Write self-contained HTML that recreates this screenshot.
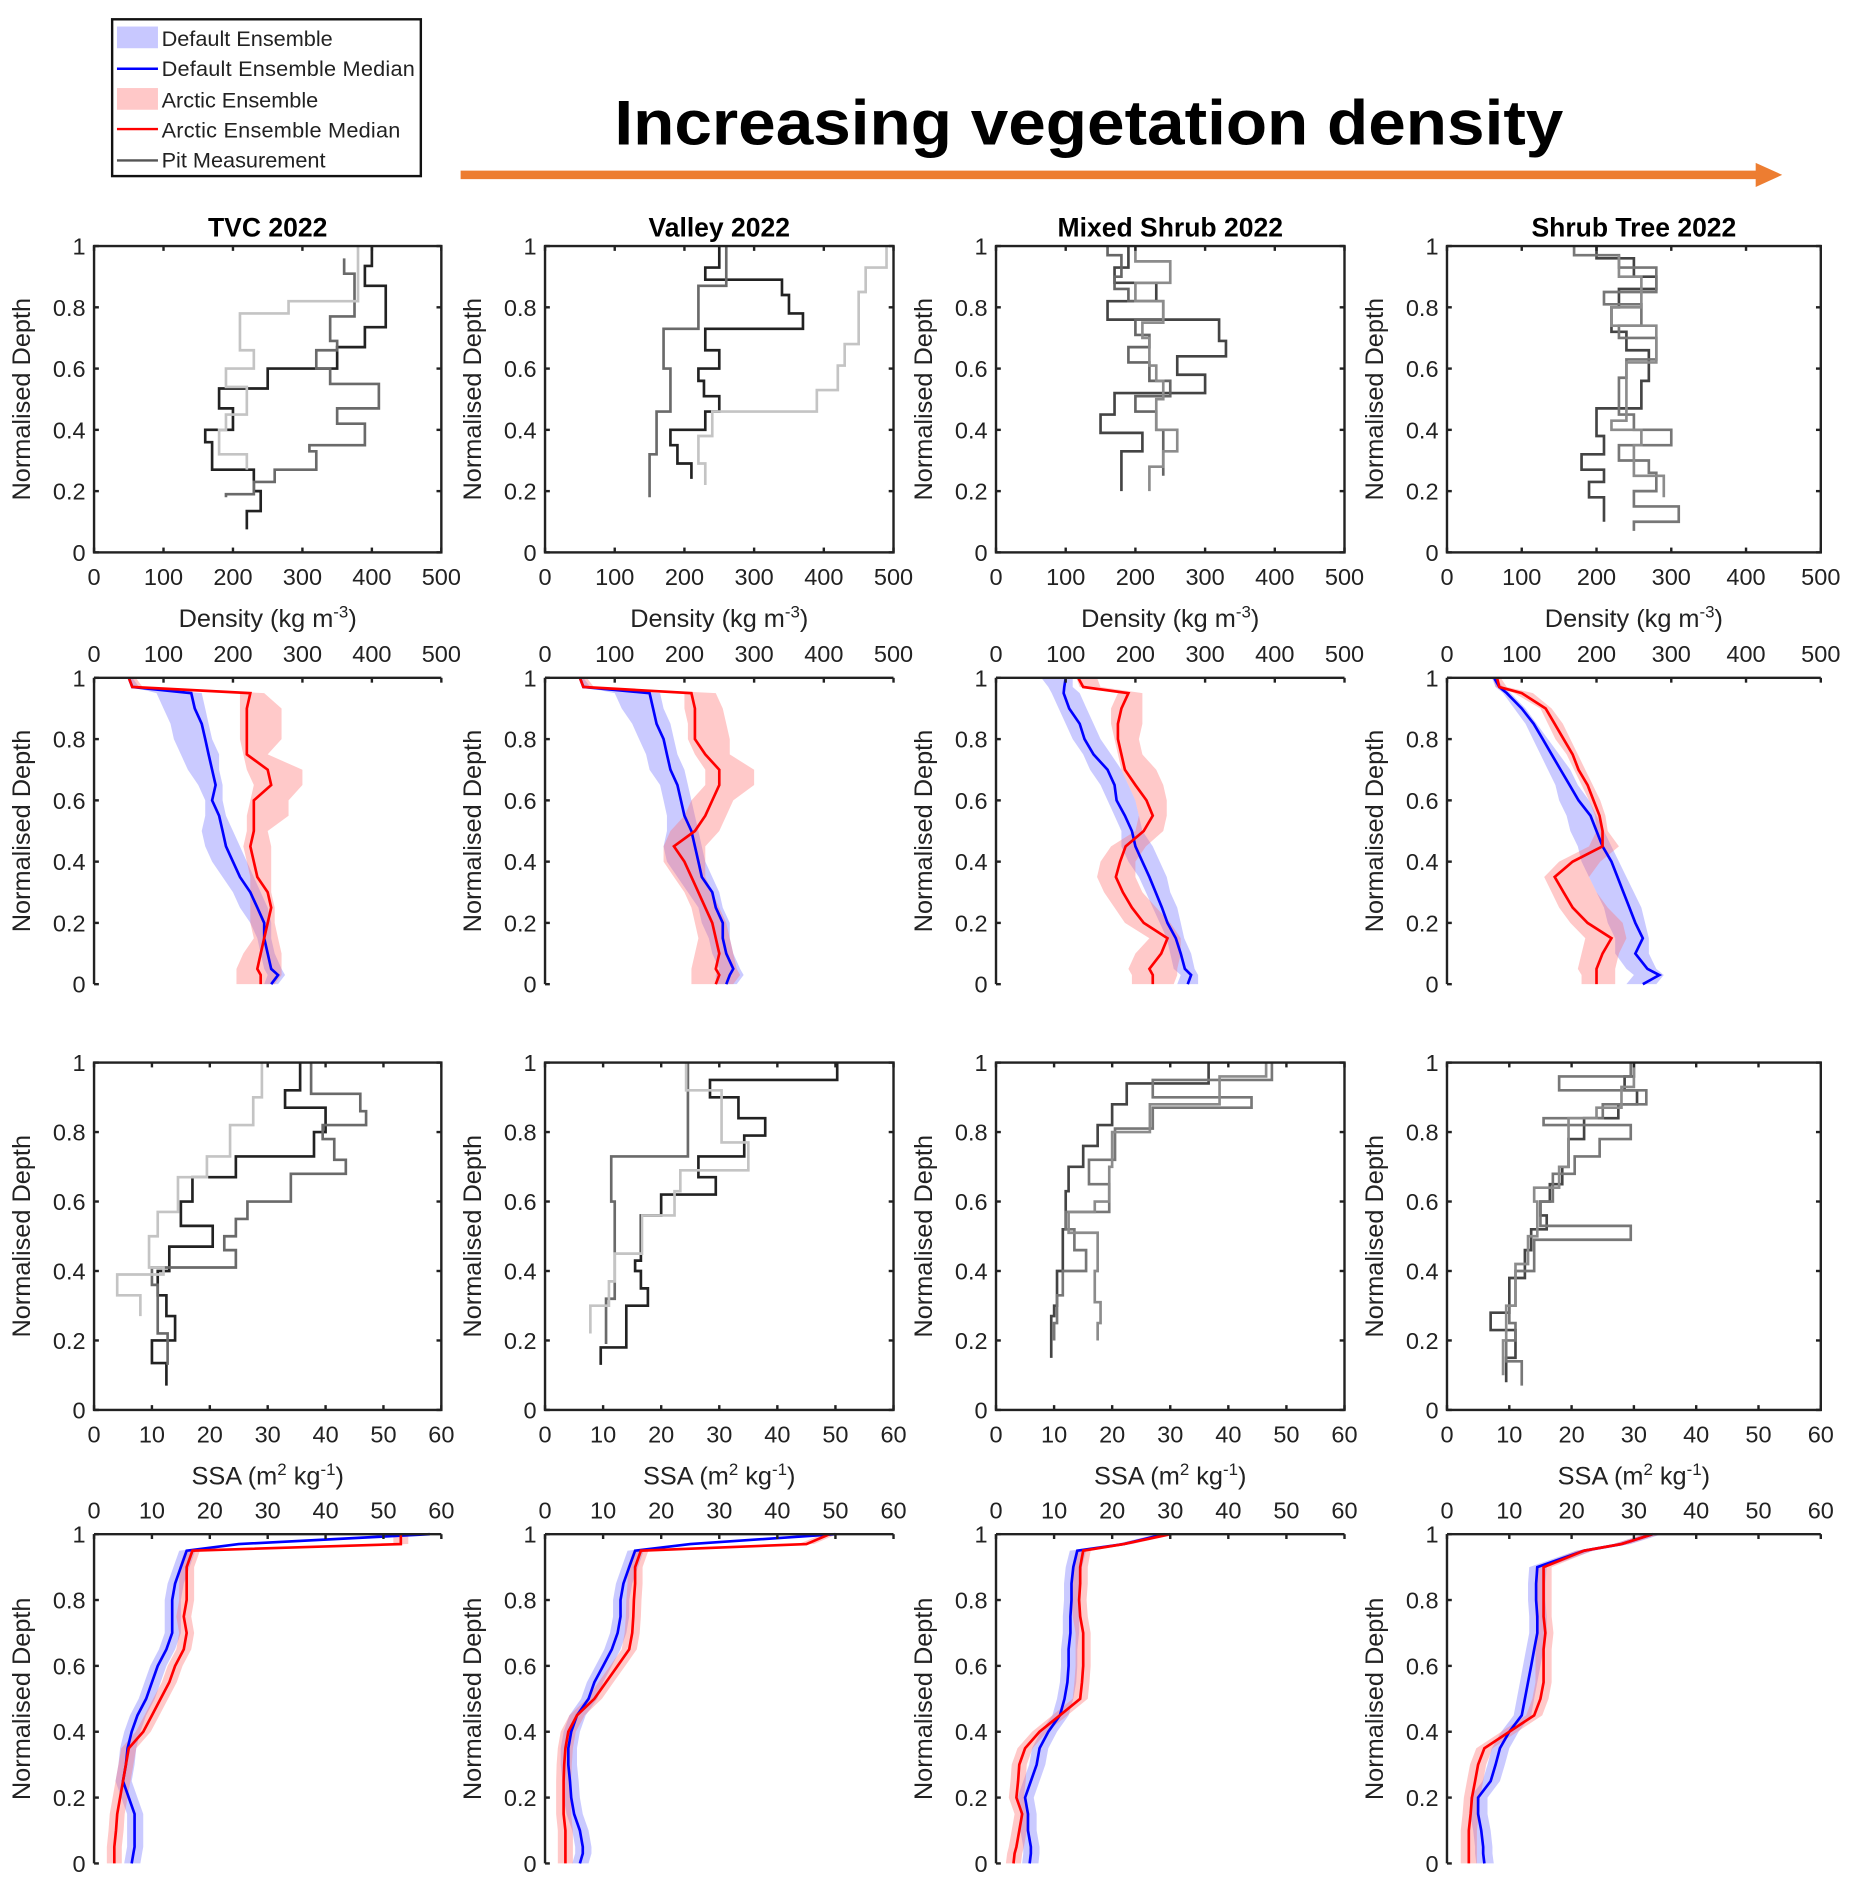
<!DOCTYPE html>
<html><head><meta charset="utf-8"><title>Snow profiles</title>
<style>
html,body{margin:0;padding:0;background:#fff;}
svg{display:block;}
text{font-family:"Liberation Sans",Arial,sans-serif;fill:#222;}
</style></head>
<body>
<svg id="fig" width="1863" height="1896" viewBox="0 0 1545 1572" preserveAspectRatio="none" xmlns="http://www.w3.org/2000/svg">
<g>
<rect x="93" y="16" width="256" height="130" fill="#fff" stroke="#111" stroke-width="2"/>
<rect x="97" y="22" width="34" height="18" fill="#c8c8ff"/>
<text x="134" y="38" font-size="18">Default Ensemble</text>
<line x1="97" y1="57" x2="131" y2="57" stroke="#0000ff" stroke-width="2"/>
<text x="134" y="63" font-size="18" textLength="210">Default Ensemble Median</text>
<rect x="97" y="73" width="34" height="18" fill="#ffc8c8"/>
<text x="134" y="89" font-size="18">Arctic Ensemble</text>
<line x1="97" y1="107" x2="131" y2="107" stroke="#ff0000" stroke-width="2"/>
<text x="134" y="114" font-size="18" textLength="198">Arctic Ensemble Median</text>
<line x1="97" y1="133" x2="131" y2="133" stroke="#555" stroke-width="2"/>
<text x="134" y="139" font-size="18">Pit Measurement</text>
</g>
<text x="903" y="120" font-size="52" font-weight="bold" text-anchor="middle" textLength="787" lengthAdjust="spacingAndGlyphs" style="fill:#000">Increasing vegetation density</text>
<g>
<line x1="382" y1="145" x2="1460" y2="145" stroke="#ed7d31" stroke-width="7"/>
<polygon points="1456,135 1478,145 1456,155" fill="#ed7d31"/>
</g>
<g id="plots"></g>
</svg>
<script>
// ---------- common depth grid for ensembles ----------
const ensDepth=[1,0.97,0.95,0.9,0.85,0.8,0.75,0.7,0.65,0.6,0.55,0.5,0.45,0.4,0.35,0.3,0.25,0.2,0.15,0.1,0.05,0.03,0];
const siteNames=["TVC 2022","Valley 2022","Mixed Shrub 2022","Shrub Tree 2022"];
const densityTicks=[0,100,200,300,400,500];
const ssaTicks=[0,10,20,30,40,50,60];
const depthTicks=[0,0.2,0.4,0.6,0.8,1];
const depthTickLabels=["0","0.2","0.4","0.6","0.8","1"];

// ---------- Row 1: density pits ----------
const tvcDenA_d=[1,0.935,0.87,0.735,0.67,0.6,0.535,0.47,0.4,0.36,0.27,0.2,0.135,0.075];
const tvcDenA_v=[400,390,420,390,350,250,180,200,160,170,230,240,220];
const tvcDenB_d=[0.96,0.91,0.77,0.69,0.66,0.6,0.55,0.47,0.42,0.35,0.33,0.27,0.23,0.19,0.18];
const tvcDenB_v=[360,375,340,350,320,340,410,350,390,310,320,260,230,190];
const tvcDenC_d=[1,0.82,0.78,0.66,0.6,0.54,0.45,0.4,0.32,0.27];
const tvcDenC_v=[380,280,210,230,190,220,190,180,220];
const valDenA_d=[1,0.93,0.89,0.84,0.78,0.73,0.66,0.6,0.56,0.51,0.46,0.4,0.35,0.29,0.24];
const valDenA_v=[250,230,340,350,370,230,250,220,228,250,230,180,190,210];
const valDenB_d=[1,0.87,0.73,0.6,0.46,0.32,0.18];
const valDenB_v=[260,220,170,180,160,150];
const valDenC_d=[1,0.93,0.85,0.68,0.61,0.53,0.46,0.38,0.29,0.22];
const valDenC_v=[490,460,450,430,420,390,240,220,230];
const mixDenA_d=[1,0.93,0.88,0.82,0.76,0.69,0.64,0.58,0.52,0.45,0.39,0.33,0.2];
const mixDenA_v=[190,170,230,160,320,330,260,300,170,150,210,180];
const mixDenB_d=[1,0.97,0.9,0.86,0.82,0.76,0.71,0.67,0.62,0.56,0.51,0.46,0.4,0.33,0.25];
const mixDenB_v=[160,180,170,190,240,200,220,190,220,250,200,230,240,240];
const mixDenC_d=[1,0.95,0.88,0.82,0.75,0.7,0.61,0.56,0.5,0.4,0.33,0.28,0.2];
const mixDenC_v=[200,250,200,240,210,220,230,240,230,260,240,220];
const stDenA_d=[1,0.96,0.9,0.86,0.8,0.72,0.66,0.56,0.47,0.38,0.32,0.27,0.23,0.18,0.1];
const stDenA_v=[200,250,280,230,220,240,270,260,200,210,180,210,190,210];
const stDenB_d=[1,0.97,0.93,0.85,0.81,0.74,0.7,0.63,0.57,0.45,0.4,0.35,0.3,0.26,0.2,0.15,0.1,0.07];
const stDenB_v=[170,230,280,210,260,230,280,240,230,250,300,230,270,280,250,310,250];
const stDenC_d=[0.97,0.9,0.8,0.74,0.62,0.5,0.43,0.4,0.35,0.25,0.18];
const stDenC_v=[230,260,220,280,240,240,220,260,250,290];

// ---------- Row 2: density ensembles ----------
const tvcDenDefMed=[50,55,140,145,155,160,165,170,175,170,180,185,190,200,210,225,235,245,245,250,255,265,255];
const tvcDenDefLo=[50,55,90,100,110,115,125,135,150,160,160,155,160,170,185,200,210,225,235,240,245,250,245];
const tvcDenDefHi=[55,65,155,160,165,170,180,180,185,185,190,200,210,220,230,240,250,255,255,260,270,275,265];
const tvcDenArcMed=[50,55,225,220,220,220,220,250,255,230,230,230,225,230,235,250,255,250,245,240,235,240,240];
const tvcDenArcLo=[50,55,210,210,210,210,215,220,230,225,220,220,215,220,225,225,225,225,230,215,205,205,205];
const tvcDenArcHi=[60,70,245,270,270,270,250,300,300,280,280,250,255,255,255,255,260,260,265,270,270,270,260];
const valDenDefMed=[50,55,150,155,160,170,175,180,190,195,200,210,215,220,225,240,245,255,255,260,270,265,260];
const valDenDefLo=[50,55,100,110,125,135,145,150,165,170,175,175,170,175,190,205,220,225,235,240,250,245,245];
const valDenDefHi=[55,65,165,170,180,185,190,200,205,210,215,220,225,230,240,250,255,265,265,270,280,285,275];
const valDenArcMed=[50,55,210,215,215,215,230,250,250,240,230,215,185,200,210,220,230,240,245,250,245,250,245];
const valDenArcLo=[50,55,200,200,205,205,215,230,230,210,200,180,170,170,185,200,210,215,220,215,210,210,210];
const valDenArcHi=[60,70,245,255,260,265,265,300,300,270,260,250,230,230,230,240,250,260,265,270,275,280,270];
const mixDenDefMed=[100,98,97,105,120,127,140,160,170,173,185,195,200,210,220,229,238,246,258,265,271,280,275];
const mixDenDefLo=[65,75,80,90,100,110,125,135,150,160,170,180,180,190,205,215,225,235,245,250,255,265,260];
const mixDenDefHi=[110,110,120,130,140,150,165,180,190,200,205,210,225,235,245,250,260,265,270,280,285,290,290];
const mixDenArcMed=[118,125,190,180,175,175,180,185,200,216,225,212,186,178,172,182,195,212,246,237,220,225,225];
const mixDenArcLo=[115,120,175,165,165,170,175,180,190,200,205,200,165,150,145,155,170,185,220,200,190,195,195];
const mixDenArcHi=[145,150,210,210,210,205,210,230,240,245,245,240,215,200,200,210,230,250,265,265,260,260,255];
const stDenDefMed=[63,70,80,100,116,128,140,152,164,176,192,200,208,220,228,236,244,252,262,252,268,284,262];
const stDenDefLo=[60,65,75,90,105,115,125,135,145,150,160,165,175,180,190,200,210,215,225,225,240,250,240];
const stDenDefHi=[65,75,85,105,120,135,150,165,175,190,200,210,220,230,240,250,260,265,270,270,280,290,280];
const stDenArcMed=[67,70,100,132,144,156,168,176,188,196,204,208,208,168,144,156,168,188,220,208,200,200,200];
const stDenArcLo=[62,65,90,125,135,145,160,170,180,190,198,200,190,150,130,140,150,165,185,180,175,180,180];
const stDenArcHi=[72,80,115,140,155,165,175,185,195,205,212,215,230,205,190,200,215,235,240,230,225,225,225];

// ---------- Row 3: SSA pits ----------
const tvcSsaA_d=[1,0.92,0.87,0.8,0.73,0.67,0.6,0.53,0.47,0.4,0.33,0.27,0.2,0.135,0.07];
const tvcSsaA_v=[35.6,33,40,38,24.5,17,15,20.5,13,11,12.5,14,10,12.5];
const tvcSsaB_d=[1,0.91,0.86,0.82,0.78,0.72,0.68,0.6,0.55,0.5,0.46,0.41,0.36,0.22,0.13];
const tvcSsaB_v=[37.5,46,47,39.5,41.5,43.5,34,26.5,24.5,22.5,24.5,10,11,12.7];
const tvcSsaC_d=[1,0.9,0.82,0.73,0.67,0.57,0.5,0.41,0.39,0.33,0.27];
const tvcSsaC_v=[29,27.5,23.5,19.5,14.5,11,9.5,12,4,8];
const valSsaA_d=[1,0.95,0.9,0.84,0.79,0.73,0.67,0.62,0.56,0.43,0.4,0.35,0.3,0.18,0.13];
const valSsaA_v=[50.3,28.4,33.3,37.9,34.3,26.4,29.4,20,16.5,15.5,16.5,17.7,14,9.6];
const valSsaB_d=[1,0.73,0.6,0.32,0.19];
const valSsaB_v=[24.6,11.4,12,10.5];
const valSsaC_d=[1,0.92,0.77,0.69,0.63,0.56,0.45,0.37,0.3,0.22];
const valSsaC_v=[24.3,30.4,35,23.3,22.3,16.7,12,11,7.8];
const mixSsaA_d=[1,0.94,0.88,0.82,0.76,0.7,0.63,0.52,0.4,0.3,0.27,0.15];
const mixSsaA_v=[36.6,22.5,20,17.5,15,12.5,12,11.5,10.5,10,9.5];
const mixSsaB_d=[1,0.95,0.9,0.87,0.81,0.72,0.65,0.57,0.52,0.46,0.4,0.33,0.25,0.2];
const mixSsaB_v=[47.5,27,44,27,20.5,16,19.5,12,13.5,15.5,11.5,10.5,10];
const mixSsaC_d=[1,0.96,0.88,0.8,0.7,0.6,0.57,0.51,0.4,0.31,0.25,0.2];
const mixSsaC_v=[46.5,38.5,26.5,20,19.5,17,12.5,17.5,17,18,17.5];
const stSsaA_d=[1,0.96,0.92,0.88,0.84,0.78,0.7,0.65,0.6,0.56,0.52,0.46,0.38,0.28,0.23,0.15,0.08];
const stSsaA_v=[30,28.5,30.5,27.5,22,19.5,18.5,16.5,15,16,13.5,12.5,10,7,11,9.5];
const stSsaB_d=[1,0.96,0.92,0.88,0.84,0.82,0.78,0.73,0.68,0.6,0.53,0.49,0.4,0.3,0.25,0.2,0.14,0.07];
const stSsaB_v=[29.5,18,32,25,15.5,29.5,24.5,20.5,17,15,29.5,14,11,10,11,9.5,12];
const stSsaC_d=[1,0.93,0.87,0.84,0.8,0.7,0.64,0.6,0.5,0.42,0.3,0.2,0.1];
const stSsaC_v=[30,28,24,19.5,19.5,18,14,14.5,13,11,9.5,9];

// ---------- Row 4: SSA ensembles ----------
const tvcSsaDefMed=[58,25,16,15,14,13.5,13.5,13.5,12.5,11,10,9,7.5,6.5,5.8,5.5,5,6,7,7,7,6.8,6.5];
const tvcSsaArcMed=[53,53,17,16,16,16,15.5,16,15.5,14,13,11.5,10,8.5,6,5.5,5,4.5,4,3.8,3.5,3.5,3.5];
const valSsaDefMed=[50,25,15.5,14.5,13.5,13,13,12.5,11.5,10,8.5,7.5,5.5,4.5,4,4,4.3,4.5,5,6,6.5,6.5,6];
const valSsaArcMed=[49,45,16.5,15.5,15.5,15.3,15.2,15,14.5,12.5,10.5,8.5,5.5,4,3.5,3.3,3.2,3.2,3.2,3.5,3.5,3.5,3.5];
const mixSsaDefMed=[29,22,14,13.3,13,13,12.8,12.8,12.5,12.5,12.3,11.8,11,9,7.5,7,6,5,5.5,5.5,6,6,5.8];
const mixSsaArcMed=[30,22,15,14.5,14.5,14.3,14.5,15,15,15,14.8,14.5,11,7.5,5,4,3.8,3.5,4.5,4,3.5,3.2,3];
const stSsaDefMed=[33,28,22,14.5,14.3,14.3,14.5,14.5,14,13.5,13,12.5,12,10,8.5,7.8,7,5,5,5.5,5.8,5.8,6];
const stSsaArcMed=[33,28,22,15.5,15.5,15.5,15.5,15.8,15.5,15.5,15.5,15,14,10,6,5,4.5,4,3.8,3.5,3.5,3.5,3.5];

// ---------- layout ----------
const NS="http://www.w3.org/2000/svg";
const colX=[78,452,826,1200], colW=[288,289,289,310];
const rows=[{t:204,b:458},{t:562,b:816},{t:881,b:1169},{t:1272,b:1545}];
const plots=document.getElementById('plots');
function mk(tag,attrs,parent){const e=document.createElementNS(NS,tag);for(const k in attrs)e.setAttribute(k,attrs[k]);(parent||plots).appendChild(e);return e;}
function xOf(p,v){return p.x0+v/p.xmax*p.w;}
function yOf(p,d){return p.yb-d*(p.yb-p.yt);}

function stepPath(p,ds,vs){
  let s='M'+xOf(p,vs[0]).toFixed(1)+' '+yOf(p,ds[0]).toFixed(1);
  for(let i=0;i<vs.length;i++){
    s+=' V'+yOf(p,ds[i+1]).toFixed(1);
    if(i+1<vs.length)s+=' H'+xOf(p,vs[i+1]).toFixed(1);
  }
  return s;
}
function linePath(p,vals){return vals.map((v,i)=>(i?'L':'M')+xOf(p,v).toFixed(1)+' '+yOf(p,ensDepth[i]).toFixed(1)).join(' ');}
function bandPath(p,lo,hi){
  let s=lo.map((v,i)=>(i?'L':'M')+xOf(p,v).toFixed(1)+' '+yOf(p,ensDepth[i]).toFixed(1)).join(' ');
  for(let i=hi.length-1;i>=0;i--)s+=' L'+xOf(p,hi[i]).toFixed(1)+' '+yOf(p,ensDepth[i]).toFixed(1);
  return s+' Z';
}
function offset(arr,dv){return arr.map(v=>Math.max(0,v+dv));}

function axes(p,row,ci,kind){
  const g=mk('g',{});
  
  
  const full=(row===0||row===2);
  const ticks=kind==='den'?densityTicks:ssaTicks;
  if(full){
    mk('rect',{x:p.x0,y:p.yt,width:p.w,height:p.yb-p.yt,fill:'none',stroke:'#222','stroke-width':2},g);
  }else{
    mk('line',{x1:p.x0,y1:p.yt,x2:p.x0+p.w,y2:p.yt,stroke:'#222','stroke-width':2},g);
    mk('line',{x1:p.x0,y1:p.yt,x2:p.x0,y2:p.yb,stroke:'#222','stroke-width':2},g);
  }
  ticks.forEach(t=>{
    const x=xOf(p,t);
    if(full){
      mk('line',{x1:x,y1:p.yb,x2:x,y2:p.yb-4,stroke:'#222','stroke-width':2},g);
      mk('line',{x1:x,y1:p.yt,x2:x,y2:p.yt+4,stroke:'#222','stroke-width':2},g);
      const tl=mk('text',{x:x,y:p.yb+27,'font-size':19.5,'text-anchor':'middle'},g);tl.textContent=t;
      
      
    }else{
      mk('line',{x1:x,y1:p.yt,x2:x,y2:p.yt+4,stroke:'#222','stroke-width':2},g);
      const tl=mk('text',{x:x,y:p.yt-13,'font-size':19.5,'text-anchor':'middle'},g);tl.textContent=t;
      
      
    }
  });
  depthTicks.forEach((t,i)=>{
    const y=yOf(p,t);
    mk('line',{x1:p.x0,y1:y,x2:p.x0+4,y2:y,stroke:'#222','stroke-width':2},g);
    if(full)mk('line',{x1:p.x0+p.w,y1:y,x2:p.x0+p.w-4,y2:y,stroke:'#222','stroke-width':2},g);
    const tl=mk('text',{x:p.x0-7,y:y+7,'font-size':19.5,'text-anchor':'end'},g);tl.textContent=depthTickLabels[i];
    
    
  });
  const cy=(p.yt+p.yb)/2, lx=p.x0-53;
  const yl=mk('text',{x:lx,y:cy,'font-size':21,'text-anchor':'middle',transform:'rotate(-90 '+lx+' '+cy+')'},g);
  yl.textContent='Normalised Depth';
  
  
  if(full){
    const xl=mk('text',{x:p.x0+p.w/2,y:p.yb+62,'font-size':21,'text-anchor':'middle'},g);
    
    
    if(kind==='den'){xl.innerHTML='Density (kg m<tspan dy="-8" font-size="14">-3</tspan><tspan dy="8">)</tspan>';}
    else{xl.innerHTML='SSA (m<tspan dy="-8" font-size="14">2</tspan><tspan dy="8"> kg</tspan><tspan dy="-8" font-size="14">-1</tspan><tspan dy="8">)</tspan>';}
  }
}

const denPits=[
 [[tvcDenA_d,tvcDenA_v,'#222'],[tvcDenB_d,tvcDenB_v,'#6a6a6a'],[tvcDenC_d,tvcDenC_v,'#c4c4c4']],
 [[valDenA_d,valDenA_v,'#222'],[valDenB_d,valDenB_v,'#6a6a6a'],[valDenC_d,valDenC_v,'#c4c4c4']],
 [[mixDenA_d,mixDenA_v,'#444'],[mixDenB_d,mixDenB_v,'#666'],[mixDenC_d,mixDenC_v,'#8c8c8c']],
 [[stDenA_d,stDenA_v,'#444'],[stDenB_d,stDenB_v,'#777'],[stDenC_d,stDenC_v,'#8c8c8c']]];
const ssaPits=[
 [[tvcSsaA_d,tvcSsaA_v,'#222'],[tvcSsaB_d,tvcSsaB_v,'#6a6a6a'],[tvcSsaC_d,tvcSsaC_v,'#c4c4c4']],
 [[valSsaA_d,valSsaA_v,'#222'],[valSsaB_d,valSsaB_v,'#6a6a6a'],[valSsaC_d,valSsaC_v,'#c4c4c4']],
 [[mixSsaA_d,mixSsaA_v,'#444'],[mixSsaB_d,mixSsaB_v,'#777'],[mixSsaC_d,mixSsaC_v,'#8c8c8c']],
 [[stSsaA_d,stSsaA_v,'#444'],[stSsaB_d,stSsaB_v,'#777'],[stSsaC_d,stSsaC_v,'#8c8c8c']]];
const denEns=[
 [tvcDenDefMed,tvcDenDefLo,tvcDenDefHi,tvcDenArcMed,tvcDenArcLo,tvcDenArcHi],
 [valDenDefMed,valDenDefLo,valDenDefHi,valDenArcMed,valDenArcLo,valDenArcHi],
 [mixDenDefMed,mixDenDefLo,mixDenDefHi,mixDenArcMed,mixDenArcLo,mixDenArcHi],
 [stDenDefMed,stDenDefLo,stDenDefHi,stDenArcMed,stDenArcLo,stDenArcHi]];
const ssaEns=[[tvcSsaDefMed,tvcSsaArcMed],[valSsaDefMed,valSsaArcMed],[mixSsaDefMed,mixSsaArcMed],[stSsaDefMed,stSsaArcMed]];

for(let c=0;c<4;c++){
  const tt=mk('text',{x:colX[c]+colW[c]/2,y:196,'font-size':22,'font-weight':'bold','text-anchor':'middle',style:'fill:#000'});
  tt.textContent=siteNames[c];
  
  
  for(let r=0;r<4;r++){
    const kind=(r<2)?'den':'ssa';
    const p={x0:colX[c],w:colW[c],yt:rows[r].t,yb:rows[r].b,xmax:kind==='den'?500:60};
    const g=mk('g',{});
    
    
    if(r===0||r===2){
      const pits=(r===0?denPits:ssaPits)[c];
      pits.forEach((pt,i)=>{
        const e=mk('path',{d:stepPath(p,pt[0],pt[1]),fill:'none',stroke:pt[2],'stroke-width':2.2},g);
        
        
      });
    }else if(r===1){
      const e=denEns[c];
      const b1=mk('path',{d:bandPath(p,e[1],e[2]),fill:'#8080ff','fill-opacity':0.42,stroke:'none'},g);
      
      
      const b2=mk('path',{d:bandPath(p,e[4],e[5]),fill:'#ff7070','fill-opacity':0.38,stroke:'none'},g);
      
      
      const l1=mk('path',{d:linePath(p,e[0]),fill:'none',stroke:'#0000ff','stroke-width':2.2},g);
      
      
      const l2=mk('path',{d:linePath(p,e[3]),fill:'none',stroke:'#ff0000','stroke-width':2.2},g);
      
      
    }else{
      const e=ssaEns[c];
      const b1=mk('path',{d:bandPath(p,offset(e[0],-1.3),offset(e[0],1.5)),fill:'#8080ff','fill-opacity':0.42,stroke:'none'},g);
      
      
      const b2=mk('path',{d:bandPath(p,offset(e[1],-1.3),offset(e[1],1.3)),fill:'#ff7070','fill-opacity':0.38,stroke:'none'},g);
      
      
      const l1=mk('path',{d:linePath(p,e[0]),fill:'none',stroke:'#0000ff','stroke-width':2.2},g);
      
      
      const l2=mk('path',{d:linePath(p,e[1]),fill:'none',stroke:'#ff0000','stroke-width':2.2},g);
      
      
    }
    axes(p,r,c,kind);
  }
}
</script>
</body></html>
